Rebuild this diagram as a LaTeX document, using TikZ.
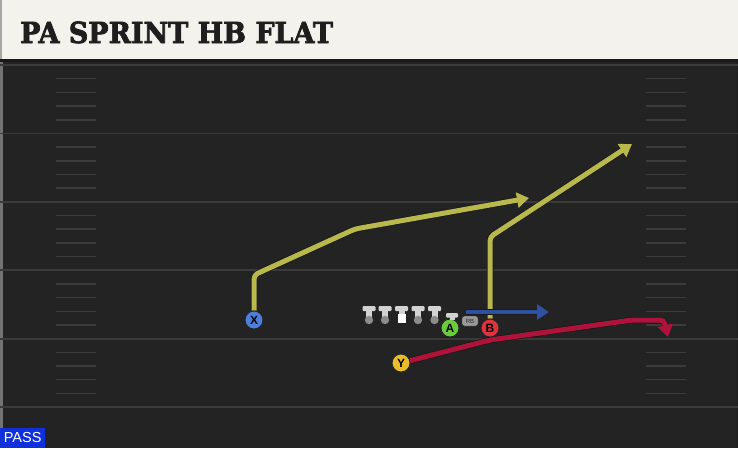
\documentclass[tikz,border=0pt]{standalone}
\usepackage{fontspec}
\setmainfont{Liberation Sans}
\newfontfamily\titlefont{DejaVu Serif Bold}[FakeBold=2.5]
\usetikzlibrary{arrows.meta}
\definecolor{fieldbg}{HTML}{232323}
\definecolor{yardline}{HTML}{3A3A3A}
\definecolor{hashc}{HTML}{3C3C3C}
\definecolor{headbg}{HTML}{F4F2EC}
\definecolor{titlec}{HTML}{1E1E1E}
\definecolor{routeyel}{HTML}{B8B84C}
\definecolor{routered}{HTML}{B0133A}
\definecolor{routeblue}{HTML}{2F4FA0}
\definecolor{plblue}{HTML}{4A7FDB}
\definecolor{plyellow}{HTML}{E8BE2C}
\definecolor{plgreen}{HTML}{6ACC3C}
\definecolor{plred}{HTML}{E0333E}
\definecolor{passblue}{HTML}{1030DC}
\definecolor{olc}{HTML}{D2D2D2}
\definecolor{olball}{HTML}{8C8C8C}
\pgfdeclarelayer{field}
\pgfdeclarelayer{routes}
\pgfsetlayers{field,routes,main}
\tikzset{
  player/.style={circle, draw=black!85, line width=0.9pt, minimum size=18pt, inner sep=0pt,
    font=\bfseries\fontsize{12}{12}\selectfont, text=black},
  route/.style={line width=5pt, line join=round, rounded corners=4pt,
    preaction={draw=black!90, line width=6.5pt, line join=round}},
  routetip/.style={-{Triangle[length=12pt,width=15pt]}},
  yardl/.style={draw=yardline, line width=1.8pt},
  hashl/.style={draw=hashc, line width=1.5pt},
  lineman/.pic={
    \fill[olc, rounded corners=1pt] (-6.5,0) rectangle (6.5,5);
    \fill[olc] (-3,4) rectangle (3,13);
    \fill[olball] (0,14) circle (4.2);
  },
  centerman/.pic={
    \fill[olc, rounded corners=1pt] (-6.5,0) rectangle (6.5,5);
    \fill[olc] (-3,4) rectangle (3,9);
    \fill[white] (-4,8) rectangle (4,16.5);
  }
}
\begin{document}
\begin{tikzpicture}[x=1pt,y=-1pt]
\useasboundingbox (0,0) rectangle (738,448);
\begin{pgfonlayer}{field}
  \fill[fieldbg] (0,0) rectangle (738,448);
  \fill[black!55] (0,57) rectangle (2.5,448);
  \draw[black!20!fieldbg, line width=1pt] (737.5,60) -- (737.5,448);
  \foreach \k in {0,...,5} {
    \draw[yardl] (0,65+68.4*\k) -- (738,65+68.4*\k);
  }
  \foreach \k in {0,...,4} {
    \foreach \j in {1,...,4} {
      \draw[hashl] (56,65+68.4*\k+13.7*\j) -- (96,65+68.4*\k+13.7*\j);
      \draw[hashl] (646,65+68.4*\k+13.7*\j) -- (686,65+68.4*\k+13.7*\j);
    }
  }
  \fill[black!90] (0,56) rectangle (738,62);
  \fill[headbg] (0,0) rectangle (738,58.5);
  \fill[black!35] (0,0) rectangle (2,58.5);
\end{pgfonlayer}

\node[anchor=base west, inner sep=0pt, text=titlec] (title) at (20,43)
  {\scalebox{0.93}[1]{\titlefont\fontsize{29}{29}\selectfont PA SPRINT HB FLAT}};

% players
\node[player, fill=plblue] (X) at (254,320) {X};
\node[player, fill=plyellow] (Y) at (401,363) {Y};
\node[player, fill=plgreen] (A) at (450,328) {A};
\node[player, fill=plred] (B) at (490,328) {B};
\node[draw=black!80, fill=black!40, rounded corners=2.5pt, minimum width=16pt, minimum height=10pt,
  inner sep=0pt, font=\fontsize{6}{6}\selectfont, text=black!85] (RB) at (470,321) {RB};

% offensive line
\foreach \xx/\nm in {369/lt,385/lg,418/rg,434.5/rt} {
  \pic (\nm) at (\xx,306) {lineman};
}
\pic (ctr) at (401.5,306) {centerman};
\fill[olc, rounded corners=1pt] (446,313) rectangle (458,317.5);
\fill[olc] (449.5,316) rectangle (454.5,319.5);

% route coordinates
\coordinate (x1) at (254,275);
\coordinate (x2) at (355,229);
\coordinate (x3) at (529,198);
\coordinate (b1) at (490,237);
\coordinate (b2) at (632,144);
\coordinate (rbstart) at (466,312);
\coordinate (rbend) at (549,312);
\coordinate (y1) at (490,340);
\coordinate (y2) at (632,320);
\coordinate (y3) at (664,320);
\coordinate (y4) at (668,337);

\begin{pgfonlayer}{routes}
  \draw[route, routetip, draw=routeyel] (X) -- (x1) -- (x2) -- (x3);
  \draw[route, routetip, draw=routeyel] (B) -- (b1) -- (b2);
  \draw[route, routetip, draw=routeblue, line width=4pt] (rbstart) -- (rbend);
  \draw[route, routetip, draw=routered] (Y.center) -- (y1) -- (y2) -- (y3) -- (y4);
\end{pgfonlayer}

\node[fill=passblue, text=white, inner sep=0pt, minimum width=45pt, minimum height=20pt,
  font=\fontsize{14.5}{14.5}\selectfont, anchor=south west] (pass) at (0,448) {PASS};
\end{tikzpicture}
\end{document}
